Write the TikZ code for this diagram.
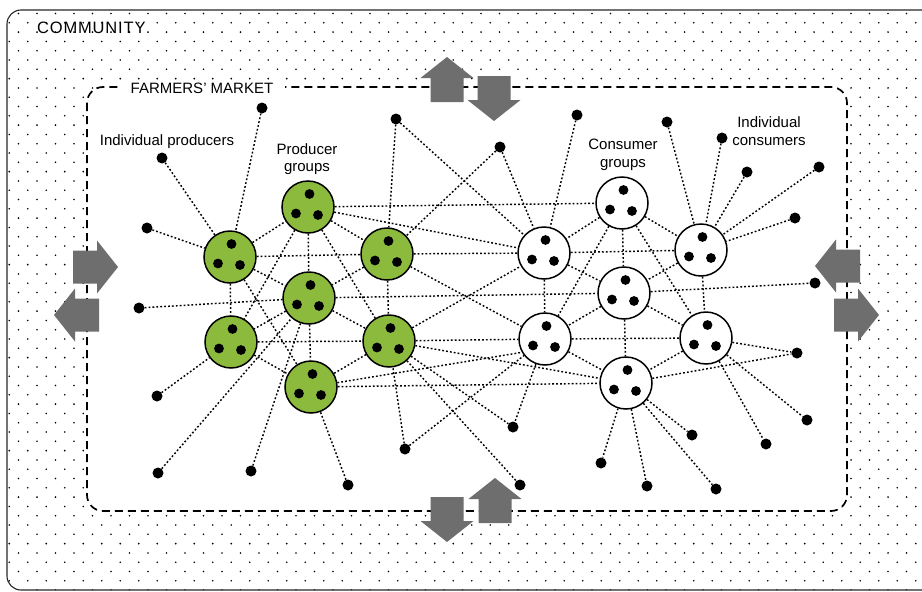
\documentclass[tikz,border=0pt]{standalone}
\usepackage{fontspec}
\setmainfont{Liberation Sans}
\newfontfamily\spacedfont[LetterSpace=5]{Liberation Sans}
\definecolor{leafgreen}{RGB}{140,186,60}
\definecolor{arrowgray}{RGB}{110,110,110}
\pgfdeclarelayer{back}
\pgfdeclarelayer{links}
\pgfsetlayers{back,links,main}

\tikzset{
  link/.style={line width=1.45pt, dash pattern=on 1.8pt off 2.1pt, black},
  grp/.style={circle, draw=black, line width=1.5pt, minimum size=52pt, inner sep=0pt,
    path picture={
      \fill[black] ([shift={(1.5,-13)}]path picture bounding box.center) circle (4.9);
      \fill[black] ([shift={(-12,6.5)}]path picture bounding box.center) circle (4.9);
      \fill[black] ([shift={(10,8)}]path picture bounding box.center) circle (4.9);
    }},
  prodgroup/.style={grp, fill=leafgreen},
  consgroup/.style={grp, fill=white},
  single/.style={circle, fill=black, minimum size=11pt, inner sep=0pt},
  lbl/.style={font=\fontsize{15}{17.5}\selectfont, inner sep=0pt},
  blockarrow/.pic={
    \fill[arrowgray] (0,-16.5) -- (24,-16.5) -- (24,-26.5) -- (45,0)
      -- (24,26.5) -- (24,16.5) -- (0,16.5) -- cycle;
  }
}

\begin{document}
\begin{tikzpicture}[x=1pt,y=-1pt]
\useasboundingbox (0,0) rectangle (922,592);

% community area: dotted ground, then the white market area on top
\begin{pgfonlayer}{back}
  \begin{scope}
    \clip[rounded corners=14pt] (7,10) rectangle (960,590);
    \fill[black] \foreach \j in {0,...,62} { \foreach \i in {0,...,51}
      { ({\i*18.5+mod(\j,2)*9.25},{13.5+\j*9.3}) circle (0.9) } };
  \end{scope}
  \draw[black!85, line width=1.1pt, rounded corners=14pt] (7,10) rectangle (960,590);
  \draw[fill=white, line width=1.7pt, dash pattern=on 8pt off 5pt, rounded corners=16pt]
    (87,87) rectangle (847,511);
\end{pgfonlayer}

% titles and captions
\node[lbl, anchor=base west, font=\fontsize{16.5}{18}\selectfont] (community) at (37,33) {\spacedfont COMMUNITY};
\node[lbl, fill=white, inner xsep=12pt, inner ysep=3pt, anchor=base] (market) at (202,93) {FARMERS' MARKET};
\node[lbl, anchor=base] (indprod) at (167,145) {Individual producers};
\node[lbl, align=center] (prodgrp) at (307,159) {Producer\\groups};
\node[lbl, align=center] (consgrp) at (623,155) {Consumer\\groups};
\node[lbl, align=center] (indcons) at (769,131) {Individual\\consumers};

% producer groups
\node[prodgroup] (G1) at (230,257) {};
\node[prodgroup] (G2) at (308,207) {};
\node[prodgroup] (G3) at (387,254) {};
\node[prodgroup] (G4) at (309,298) {};
\node[prodgroup] (G5) at (231,342) {};
\node[prodgroup] (G6) at (389,341) {};
\node[prodgroup] (G7) at (311,387) {};

% consumer groups
\node[consgroup] (W1) at (622,203) {};
\node[consgroup] (W2) at (544,253) {};
\node[consgroup] (W3) at (701,250) {};
\node[consgroup] (W4) at (624,293) {};
\node[consgroup] (W5) at (545,339) {};
\node[consgroup] (W6) at (706,338) {};
\node[consgroup] (W7) at (626,383) {};

% individual producers
\node[single] (p1) at (262,108) {};
\node[single] (p2) at (162,158) {};
\node[single] (p3) at (147,228) {};
\node[single] (p4) at (139,308) {};
\node[single] (p5) at (157,396) {};
\node[single] (p6) at (158,473) {};
\node[single] (p7) at (251,471) {};
\node[single] (p8) at (348,485) {};
\node[single] (p9) at (405,449) {};
\node[single] (t1) at (396,119) {};
\node[single] (t2) at (500,147) {};

% individual consumers
\node[single] (t3) at (577,115) {};
\node[single] (t4) at (667,122) {};
\node[single] (t5) at (722,138) {};
\node[single] (t6) at (747,172) {};
\node[single] (t7) at (819,167) {};
\node[single] (t8) at (795,218) {};
\node[single] (r1) at (815,283) {};
\node[single] (r2) at (797,353) {};
\node[single] (r3) at (807,420) {};
\node[single] (r4) at (766,444) {};
\node[single] (r5) at (692,435) {};
\node[single] (r6) at (716,489) {};
\node[single] (r7) at (647,486) {};
\node[single] (r8) at (601,463) {};
\node[single] (r9) at (513,427) {};
\node[single] (r10) at (520,485) {};

% dotted links
\begin{pgfonlayer}{links}
  \foreach \a/\b in {p1/G1, p2/G1, p3/G1, p4/G4, p5/G5, p6/G4, p7/G4, p8/G7, p9/G6, p9/W5,
      t1/G3, t1/W2, t2/G3, t2/W2, t3/W2,
      G1/G2, G1/G3, G1/G4, G1/G5, G1/G7, G2/G3, G2/G4, G2/G5, G2/G6, G3/G4, G3/G6,
      G4/G5, G4/G6, G4/G7, G5/G6, G5/G7, G6/G7,
      G2/W1, G2/W2, G3/W2, G3/W5, G4/W4, G6/W2, G6/W5, G6/W7, G7/W7, G6/r9, G6/r10,
      W1/W2, W1/W3, W1/W4, W1/W5, W1/W6, W2/W3, W2/W4, W2/W5, W3/W4, W3/W6,
      W4/W5, W4/W6, W4/W7, W5/W6, W5/W7, W6/W7,
      t4/W3, t5/W3, t6/W3, t7/W3, t8/W3, W4/r1, W6/r2, W7/r2, W6/r3, W6/r4,
      W7/r5, W7/r6, W7/r7, W7/r8, W5/r9}
    \draw[link] (\a) -- (\b);
  \draw[link] (G7) -- (W5.210);
\end{pgfonlayer}

% exchange arrows across the market boundary
\pic[rotate=90]  (aTopUp)    at (447,102) {blockarrow};
\pic[rotate=-90] (aTopDown)  at (494,76)  {blockarrow};
\pic             (aLeftIn)   at (73,267)  {blockarrow};
\pic[rotate=180] (aLeftOut)  at (99,315)  {blockarrow};
\pic[rotate=180] (aRightIn)  at (860,266) {blockarrow};
\pic             (aRightOut) at (834,315) {blockarrow};
\pic[rotate=-90] (aBotDown)  at (447,497) {blockarrow};
\pic[rotate=90]  (aBotUp)    at (495,523) {blockarrow};
\end{tikzpicture}
\end{document}
